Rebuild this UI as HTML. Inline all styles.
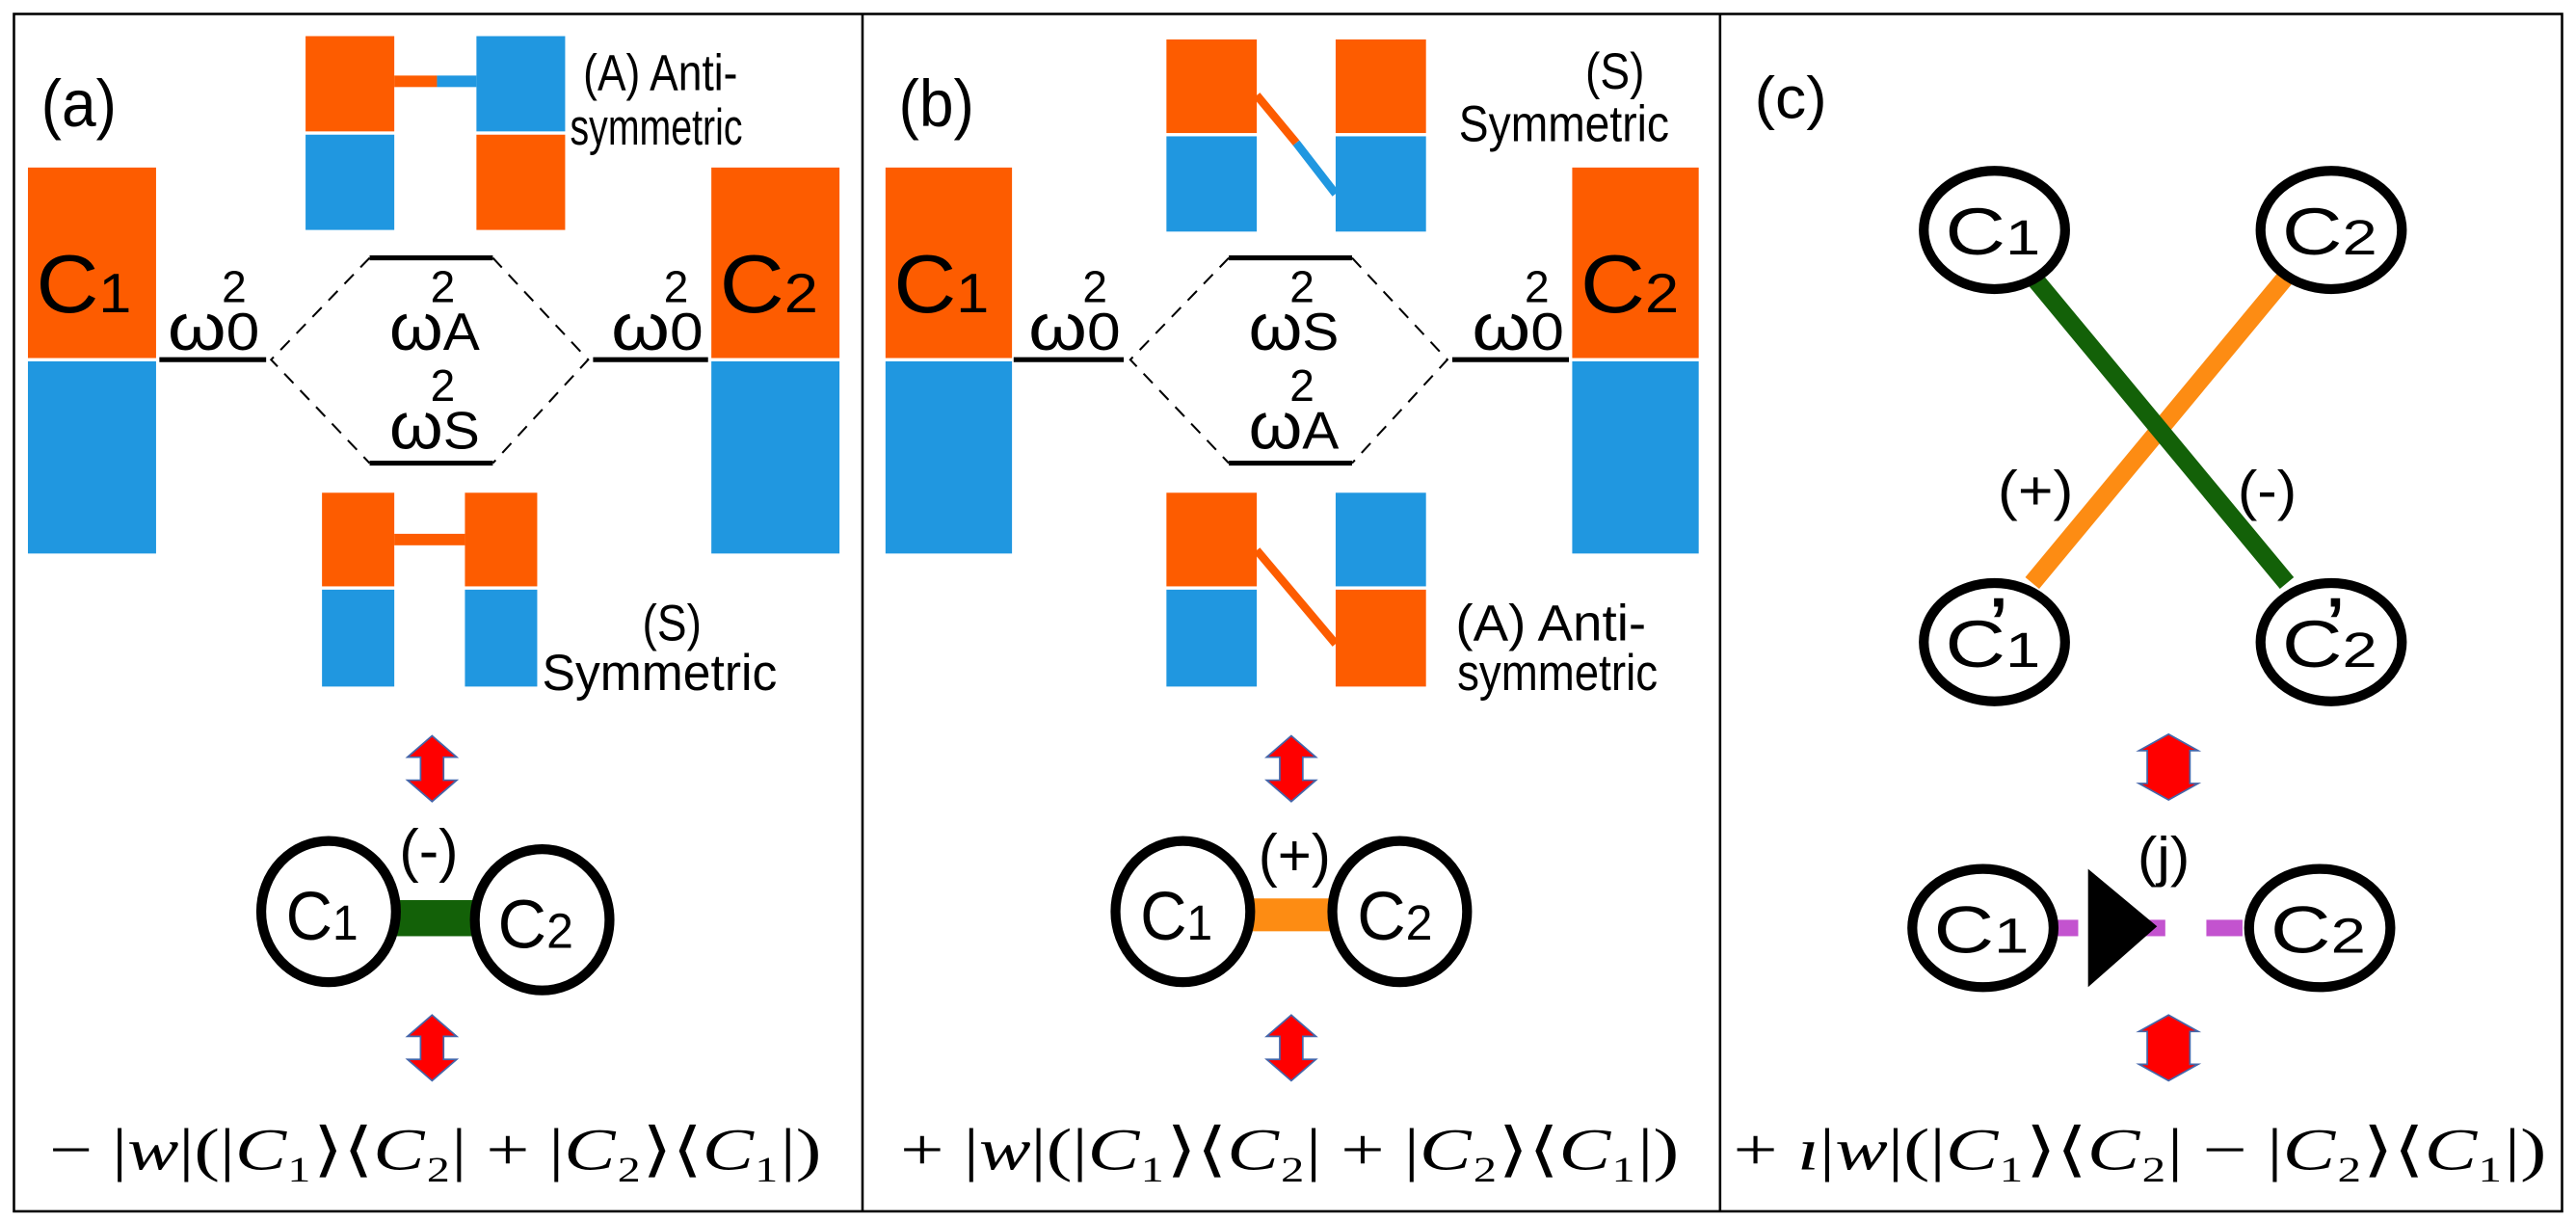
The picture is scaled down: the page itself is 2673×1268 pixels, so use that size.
<!DOCTYPE html>
<html><head><meta charset="utf-8"><style>
html,body{margin:0;padding:0;background:#fff;width:2673px;height:1268px;overflow:hidden}
svg{display:block}
.s{font-family:"Liberation Sans",sans-serif;fill:#000}
.m{font-family:"Liberation Serif",serif;fill:#000}
</style></head><body>
<svg width="2673" height="1268" viewBox="0 0 1568 744" preserveAspectRatio="none" xmlns="http://www.w3.org/2000/svg">
<defs>
<g id="arr"><polygon points="0,-20 15,-7 7,-7 7,7 15,7 0,20 -15,7 -7,7 -7,-7 -15,-7" fill="#ff0000" stroke="#4466aa" stroke-width="1"/></g>
<g id="arr2"><polygon points="0,-20 18,-10 13,-10 13,10 18,10 0,20 -18,10 -13,10 -13,-10 -18,-10" fill="#ff0000" stroke="#4466aa" stroke-width="1"/></g>
</defs>
<rect x="0" y="0" width="1568" height="744" fill="#fff"/>
<rect x="8.5" y="8.5" width="1551" height="729" fill="none" stroke="#000" stroke-width="1.5"/>
<line x1="525" y1="8" x2="525" y2="738" stroke="#000" stroke-width="1.5"/>
<line x1="1047" y1="8" x2="1047" y2="738" stroke="#000" stroke-width="1.5"/>

<!-- Panel a -->
<text x="25" y="77" class="s" font-size="40" textLength="46" lengthAdjust="spacingAndGlyphs">(a)</text>
<rect x="17" y="102" width="78" height="116" fill="#fd5c00"/>
<rect x="17" y="220" width="78" height="117" fill="#2097e0"/>
<text x="22" y="190" class="s" font-size="50" textLength="58" lengthAdjust="spacingAndGlyphs">C<tspan font-size="34">1</tspan></text>
<rect x="433" y="102" width="78" height="116" fill="#fd5c00"/>
<rect x="433" y="220" width="78" height="117" fill="#2097e0"/>
<text x="438" y="190" class="s" font-size="50" textLength="60" lengthAdjust="spacingAndGlyphs">C<tspan font-size="34">2</tspan></text>
<line x1="97" y1="219" x2="162" y2="219" stroke="#000" stroke-width="3"/>
<line x1="361" y1="219" x2="431" y2="219" stroke="#000" stroke-width="3"/>
<polyline points="225,157 165,219 225,282" fill="none" stroke="#000" stroke-width="1.2" stroke-dasharray="8,6"/>
<polyline points="300,157 358,219 300,282" fill="none" stroke="#000" stroke-width="1.2" stroke-dasharray="8,6"/>
<line x1="225" y1="157" x2="300" y2="157" stroke="#000" stroke-width="3"/>
<line x1="225" y1="282" x2="300" y2="282" stroke="#000" stroke-width="3"/>
<text x="102" y="213" class="s" font-size="40" textLength="56" lengthAdjust="spacingAndGlyphs">ω<tspan font-size="32">0</tspan></text>
<text x="135" y="184" class="s" font-size="27">2</text>
<text x="372" y="213" class="s" font-size="40" textLength="56" lengthAdjust="spacingAndGlyphs">ω<tspan font-size="32">0</tspan></text>
<text x="404" y="184" class="s" font-size="27">2</text>
<text x="237" y="213" class="s" font-size="40" textLength="55" lengthAdjust="spacingAndGlyphs">ω<tspan font-size="32">A</tspan></text>
<text x="262" y="184" class="s" font-size="27">2</text>
<text x="237" y="273" class="s" font-size="40" textLength="55" lengthAdjust="spacingAndGlyphs">ω<tspan font-size="32">S</tspan></text>
<text x="262" y="244" class="s" font-size="27">2</text>
<!-- top A pic -->
<rect x="186" y="22" width="54" height="58" fill="#fd5c00"/>
<rect x="186" y="82" width="54" height="58" fill="#2097e0"/>
<rect x="290" y="22" width="54" height="58" fill="#2097e0"/>
<rect x="290" y="82" width="54" height="58" fill="#fd5c00"/>
<rect x="240" y="46" width="26" height="7" fill="#fd5c00"/>
<rect x="266" y="46" width="24" height="7" fill="#2097e0"/>
<text x="355" y="55" class="s" font-size="31" textLength="94" lengthAdjust="spacingAndGlyphs">(A) Anti-</text>
<text x="347" y="88" class="s" font-size="31" textLength="105" lengthAdjust="spacingAndGlyphs">symmetric</text>
<!-- bottom S pic -->
<rect x="196" y="300" width="44" height="57" fill="#fd5c00"/>
<rect x="196" y="359" width="44" height="59" fill="#2097e0"/>
<rect x="283" y="300" width="44" height="57" fill="#fd5c00"/>
<rect x="283" y="359" width="44" height="59" fill="#2097e0"/>
<rect x="240" y="325" width="43" height="7" fill="#fd5c00"/>
<text x="391" y="390" class="s" font-size="31" textLength="36" lengthAdjust="spacingAndGlyphs">(S)</text>
<text x="330" y="420" class="s" font-size="31" textLength="143" lengthAdjust="spacingAndGlyphs">Symmetric</text>
<use href="#arr" x="263" y="468"/>
<use href="#arr" x="263" y="638"/>
<rect x="238" y="548" width="55" height="22" fill="#136108"/>
<ellipse cx="200" cy="555" rx="41" ry="43" fill="#fff" stroke="#000" stroke-width="6"/>
<ellipse cx="330" cy="560" rx="41" ry="43" fill="#fff" stroke="#000" stroke-width="6"/>
<text x="174" y="572" class="s" font-size="42" textLength="44" lengthAdjust="spacingAndGlyphs">C<tspan font-size="30">1</tspan></text>
<text x="303" y="577" class="s" font-size="42" textLength="46" lengthAdjust="spacingAndGlyphs">C<tspan font-size="30">2</tspan></text>
<text x="243" y="530" class="s" font-size="36" textLength="36" lengthAdjust="spacingAndGlyphs">(-)</text>
<text x="30" y="712" class="m" font-size="36" textLength="470" lengthAdjust="spacingAndGlyphs">− |<tspan font-style="italic">w</tspan>|(|<tspan font-style="italic">C</tspan>₁⟩⟨<tspan font-style="italic">C</tspan>₂| + |<tspan font-style="italic">C</tspan>₂⟩⟨<tspan font-style="italic">C</tspan>₁|)</text>

<!-- Panel b -->
<text x="547" y="77" class="s" font-size="40" textLength="46" lengthAdjust="spacingAndGlyphs">(b)</text>
<rect x="539" y="102" width="77" height="116" fill="#fd5c00"/>
<rect x="539" y="220" width="77" height="117" fill="#2097e0"/>
<text x="544" y="190" class="s" font-size="50" textLength="58" lengthAdjust="spacingAndGlyphs">C<tspan font-size="34">1</tspan></text>
<rect x="957" y="102" width="77" height="116" fill="#fd5c00"/>
<rect x="957" y="220" width="77" height="117" fill="#2097e0"/>
<text x="962" y="190" class="s" font-size="50" textLength="60" lengthAdjust="spacingAndGlyphs">C<tspan font-size="34">2</tspan></text>
<line x1="617" y1="219" x2="684" y2="219" stroke="#000" stroke-width="3"/>
<line x1="884" y1="219" x2="955" y2="219" stroke="#000" stroke-width="3"/>
<polyline points="748,157 688,219 748,282" fill="none" stroke="#000" stroke-width="1.2" stroke-dasharray="8,6"/>
<polyline points="823,157 881,219 823,282" fill="none" stroke="#000" stroke-width="1.2" stroke-dasharray="8,6"/>
<line x1="748" y1="157" x2="823" y2="157" stroke="#000" stroke-width="3"/>
<line x1="748" y1="282" x2="823" y2="282" stroke="#000" stroke-width="3"/>
<text x="626" y="213" class="s" font-size="40" textLength="56" lengthAdjust="spacingAndGlyphs">ω<tspan font-size="32">0</tspan></text>
<text x="659" y="184" class="s" font-size="27">2</text>
<text x="896" y="213" class="s" font-size="40" textLength="56" lengthAdjust="spacingAndGlyphs">ω<tspan font-size="32">0</tspan></text>
<text x="928" y="184" class="s" font-size="27">2</text>
<text x="760" y="213" class="s" font-size="40" textLength="55" lengthAdjust="spacingAndGlyphs">ω<tspan font-size="32">S</tspan></text>
<text x="785" y="184" class="s" font-size="27">2</text>
<text x="760" y="273" class="s" font-size="40" textLength="55" lengthAdjust="spacingAndGlyphs">ω<tspan font-size="32">A</tspan></text>
<text x="785" y="244" class="s" font-size="27">2</text>
<!-- top S pic -->
<rect x="710" y="24" width="55" height="57" fill="#fd5c00"/>
<rect x="710" y="83" width="55" height="58" fill="#2097e0"/>
<rect x="813" y="24" width="55" height="57" fill="#fd5c00"/>
<rect x="813" y="83" width="55" height="58" fill="#2097e0"/>
<line x1="765" y1="58" x2="789" y2="87" stroke="#fd5c00" stroke-width="5"/>
<line x1="789" y1="87" x2="813" y2="118" stroke="#2097e0" stroke-width="5"/>
<text x="965" y="54" class="s" font-size="31" textLength="36" lengthAdjust="spacingAndGlyphs">(S)</text>
<text x="888" y="86" class="s" font-size="31" textLength="128" lengthAdjust="spacingAndGlyphs">Symmetric</text>
<!-- bottom A pic -->
<rect x="710" y="300" width="55" height="57" fill="#fd5c00"/>
<rect x="710" y="359" width="55" height="59" fill="#2097e0"/>
<rect x="813" y="300" width="55" height="57" fill="#2097e0"/>
<rect x="813" y="359" width="55" height="59" fill="#fd5c00"/>
<line x1="765" y1="335" x2="813" y2="392" stroke="#fd5c00" stroke-width="5"/>
<text x="886" y="390" class="s" font-size="31" textLength="116" lengthAdjust="spacingAndGlyphs">(A) Anti-</text>
<text x="887" y="420" class="s" font-size="31" textLength="122" lengthAdjust="spacingAndGlyphs">symmetric</text>
<use href="#arr" x="786" y="468"/>
<use href="#arr" x="786" y="638"/>
<rect x="756" y="547" width="60" height="20" fill="#fd8c13"/>
<ellipse cx="720" cy="555" rx="41" ry="43" fill="#fff" stroke="#000" stroke-width="6"/>
<ellipse cx="852" cy="555" rx="41" ry="43" fill="#fff" stroke="#000" stroke-width="6"/>
<text x="694" y="572" class="s" font-size="42" textLength="44" lengthAdjust="spacingAndGlyphs">C<tspan font-size="30">1</tspan></text>
<text x="826" y="572" class="s" font-size="42" textLength="46" lengthAdjust="spacingAndGlyphs">C<tspan font-size="30">2</tspan></text>
<text x="766" y="533" class="s" font-size="36" textLength="44" lengthAdjust="spacingAndGlyphs">(+)</text>
<text x="548" y="712" class="m" font-size="36" textLength="474" lengthAdjust="spacingAndGlyphs">+ |<tspan font-style="italic">w</tspan>|(|<tspan font-style="italic">C</tspan>₁⟩⟨<tspan font-style="italic">C</tspan>₂| + |<tspan font-style="italic">C</tspan>₂⟩⟨<tspan font-style="italic">C</tspan>₁|)</text>

<!-- Panel c -->
<text x="1068" y="72" class="s" font-size="36" textLength="44" lengthAdjust="spacingAndGlyphs">(c)</text>
<line x1="1392" y1="168" x2="1237" y2="355" stroke="#fd8c13" stroke-width="11"/>
<line x1="1237" y1="168" x2="1392" y2="355" stroke="#136108" stroke-width="11"/>
<ellipse cx="1214" cy="140" rx="43" ry="36" fill="#fff" stroke="#000" stroke-width="6"/>
<ellipse cx="1419" cy="140" rx="43" ry="36" fill="#fff" stroke="#000" stroke-width="6"/>
<ellipse cx="1214" cy="391" rx="43" ry="36" fill="#fff" stroke="#000" stroke-width="6"/>
<ellipse cx="1419" cy="391" rx="43" ry="36" fill="#fff" stroke="#000" stroke-width="6"/>
<text x="1184" y="155" class="s" font-size="40" textLength="58" lengthAdjust="spacingAndGlyphs">C<tspan font-size="30">1</tspan></text>
<text x="1389" y="155" class="s" font-size="40" textLength="58" lengthAdjust="spacingAndGlyphs">C<tspan font-size="30">2</tspan></text>
<text x="1184" y="406" class="s" font-size="40" textLength="58" lengthAdjust="spacingAndGlyphs">C<tspan font-size="30">1</tspan></text>
<text x="1389" y="406" class="s" font-size="40" textLength="58" lengthAdjust="spacingAndGlyphs">C<tspan font-size="30">2</tspan></text>
<text x="1211" y="392" class="s" font-size="40" font-weight="bold">’</text>
<text x="1416" y="392" class="s" font-size="40" font-weight="bold">’</text>
<text x="1216" y="310" class="s" font-size="34" textLength="46" lengthAdjust="spacingAndGlyphs">(+)</text>
<text x="1362" y="310" class="s" font-size="34" textLength="36" lengthAdjust="spacingAndGlyphs">(-)</text>
<use href="#arr2" x="1320" y="467"/>
<use href="#arr2" x="1320" y="638"/>
<rect x="1243" y="560" width="22" height="10" fill="#c353cf"/>
<rect x="1302" y="560" width="16" height="10" fill="#c353cf"/>
<rect x="1343" y="560" width="22" height="10" fill="#c353cf"/>
<polygon points="1271,529 1271,601 1313,564" fill="#000"/>
<ellipse cx="1207" cy="565" rx="43" ry="36" fill="#fff" stroke="#000" stroke-width="6"/>
<ellipse cx="1412" cy="565" rx="43" ry="36" fill="#fff" stroke="#000" stroke-width="6"/>
<text x="1177" y="580" class="s" font-size="40" textLength="58" lengthAdjust="spacingAndGlyphs">C<tspan font-size="30">1</tspan></text>
<text x="1382" y="580" class="s" font-size="40" textLength="58" lengthAdjust="spacingAndGlyphs">C<tspan font-size="30">2</tspan></text>
<text x="1301" y="533" class="s" font-size="34" textLength="32" lengthAdjust="spacingAndGlyphs">(j)</text>
<text x="1055" y="712" class="m" font-size="36" textLength="495" lengthAdjust="spacingAndGlyphs">+ <tspan font-style="italic">ı</tspan>|<tspan font-style="italic">w</tspan>|(|<tspan font-style="italic">C</tspan>₁⟩⟨<tspan font-style="italic">C</tspan>₂| − |<tspan font-style="italic">C</tspan>₂⟩⟨<tspan font-style="italic">C</tspan>₁|)</text>
</svg>
</body></html>
